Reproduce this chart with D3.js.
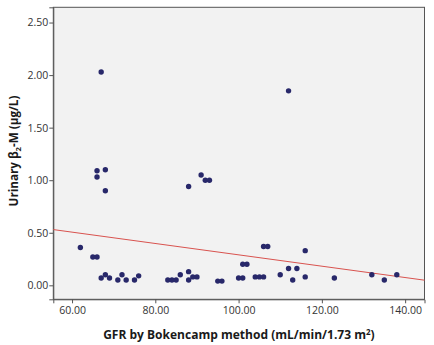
<!DOCTYPE html>
<html><head><meta charset="utf-8">
<script src="https://cdn.jsdelivr.net/npm/d3@7"></script>
<style>
html,body{margin:0;padding:0;background:#fff;}
svg{display:block;}
</style></head>
<body>
<svg id="chart" width="434" height="345"></svg>
<script>
// GFR (mL/min/1.73 m²) values
const gfr = [62.0,65.0,66.0,66.0,66.0,68.0,68.0,67.0,67.0,68.0,69.0,71.0,72.0,73.0,75.0,76.0,
  83.0,84.0,85.0,86.0,88.0,88.0,88.0,89.0,90.0,91.0,92.0,93.0,95.0,96.0,
  100.0,101.0,101.0,102.0,104.0,105.0,106.0,106.0,107.0,110.0,112.0,112.0,113.0,114.0,116.0,116.0,
  123.0,132.0,135.0,138.0];
// Urinary β2-M (μg/L) values
const b2m = [0.36,0.27,0.27,1.09,1.03,1.10,0.90,2.03,0.07,0.10,0.07,0.05,0.10,0.05,0.05,0.09,
  0.05,0.05,0.05,0.10,0.94,0.13,0.05,0.08,0.08,1.05,1.00,1.00,0.04,0.04,
  0.07,0.07,0.20,0.20,0.08,0.08,0.08,0.37,0.37,0.10,0.16,1.85,0.05,0.16,0.33,0.08,
  0.07,0.10,0.05,0.10];
const xTicks = [60, 80, 100, 120, 140];
const yTicks = [0, 0.5, 1.0, 1.5, 2.0, 2.5];
const xDomain = [55.5, 144.65];
const yDomain = [-0.133, 2.645];
// linear fit line: intercept and slope
const fitIntercept = 0.83;
const fitSlope = -0.0054;

const svg = d3.select("#chart");
const L = 53.3, R = 424.5, T = 7.3, B = 299.3;
const x = d3.scaleLinear().domain(xDomain).range([L, R]);
const y = d3.scaleLinear().domain(yDomain).range([B, T]);

svg.append("rect").attr("x", L).attr("y", T).attr("width", R - L).attr("height", B - T)
  .attr("fill", "#f2f2f2").attr("stroke", "#555").attr("stroke-width", 1);

const tickFont = "'Open Sans', 'Noto Sans', sans-serif";

const gx = svg.append("g").attr("transform", `translate(0,${B})`)
  .call(d3.axisBottom(x).tickValues(xTicks).tickFormat(d3.format(".2f")).tickSizeOuter(0).tickSize(4).tickPadding(3));
const gy = svg.append("g").attr("transform", `translate(${L},0)`)
  .call(d3.axisLeft(y).tickValues(yTicks).tickFormat(d3.format(".2f")).tickSizeOuter(0).tickSize(4).tickPadding(1));
[gx, gy].forEach(g => {
  g.select(".domain").attr("stroke", "#555");
  g.selectAll(".tick line").attr("stroke", "#555");
  g.selectAll(".tick text").attr("fill", "#333").style("font-family", tickFont).style("font-size", "10.5px");
});

// fit line
svg.append("line")
  .attr("x1", x(xDomain[0])).attr("y1", y(fitIntercept + fitSlope * xDomain[0]))
  .attr("x2", x(xDomain[1])).attr("y2", y(fitIntercept + fitSlope * xDomain[1]))
  .attr("stroke", "#d9534f").attr("stroke-width", 1);

svg.append("g").selectAll("circle").data(gfr.map((g, i) => [g, b2m[i]])).join("circle")
  .attr("cx", d => x(d[0])).attr("cy", d => y(d[1])).attr("r", 2.7)
  .attr("fill", "#28286a");

const titleFont = "'Open Sans', 'Noto Sans', sans-serif";
const xt = svg.append("text").attr("x", (L + R) / 2).attr("y", 339)
  .attr("text-anchor", "middle").style("font-family", titleFont).style("font-weight", "bold")
  .style("font-size", "12px").attr("fill", "#1a1a1a");
xt.append("tspan").text("GFR by Bokencamp method (mL/min/1.73 m");
xt.append("tspan").text("2").attr("dy", -4).style("font-size", "8px");
xt.append("tspan").text(")").attr("dy", 4);

const yt = svg.append("text").attr("transform", "translate(17.5,151) rotate(-90)")
  .attr("text-anchor", "middle").style("font-family", titleFont).style("font-weight", "bold")
  .style("font-size", "12px").attr("fill", "#1a1a1a");
yt.append("tspan").text("Urinary β");
yt.append("tspan").text("2").attr("dy", 3).style("font-size", "8px");
yt.append("tspan").text("-M (μg/L)").attr("dy", -3);

// fit title widths to reference
function fit(t, target) {
  const w = t.node().getComputedTextLength();
  const s = 12 * target / w;
  t.style("font-size", s.toFixed(2) + "px");
  t.selectAll("tspan").filter(function(){ return this.textContent === "2"; }).style("font-size", (s*0.66).toFixed(2) + "px");
}
fit(xt, 272);
fit(yt, 111);
</script>
</body></html>
